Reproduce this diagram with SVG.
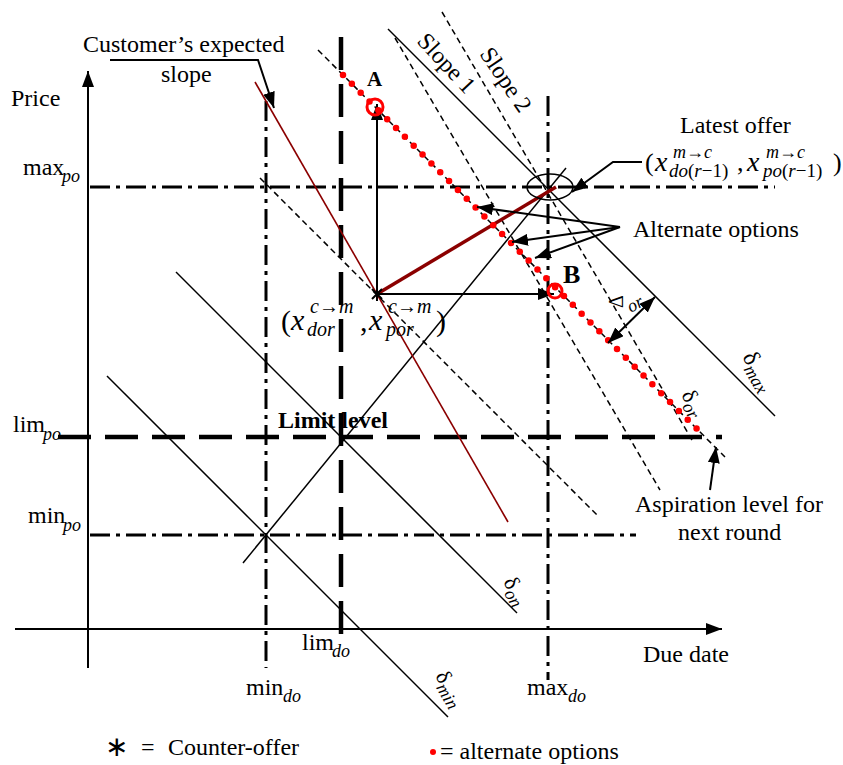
<svg xmlns="http://www.w3.org/2000/svg" width="843" height="765" viewBox="0 0 843 765">
<defs>
<style>
text{font-family:"Liberation Serif","Times New Roman",serif;font-size:24px;fill:#000}
.sub{font-size:18px;font-style:italic}
.it{font-style:italic}
.b{font-weight:bold}
.ln{stroke:#000;stroke-width:1.5;fill:none}
.dash{stroke:#000;stroke-width:1.5;fill:none;stroke-dasharray:6 4}
.ddh{stroke:#000;stroke-width:3;fill:none;stroke-dasharray:20 6 4 6}
.thick{stroke:#000;stroke-width:4.5;fill:none;stroke-dasharray:33 14}
.ax{stroke:#000;stroke-width:2;fill:none}
.arr{stroke:#000;stroke-width:2;fill:none;marker-end:url(#ah)}
</style>
<marker id="ah" viewBox="0 0 16 12" refX="16" refY="6" markerWidth="16" markerHeight="12" markerUnits="userSpaceOnUse" orient="auto-start-reverse"><path d="M0,0 L16,6 L0,12 Z" fill="#000"/></marker>
</defs>
<rect width="843" height="765" fill="#fff"/>

<g id="axes">
<line class="ax" x1="88" y1="668" x2="88" y2="71" marker-end="url(#ah)"/>
<line class="ax" x1="15" y1="629" x2="722" y2="629" marker-end="url(#ah)"/>
<text x="11" y="106">Price</text>
<text x="643" y="662">Due date</text>
</g>

<g id="levels">
<line class="ddh" x1="90" y1="187" x2="775" y2="187"/>
<line class="ddh" x1="90" y1="535" x2="636" y2="535"/>
<line class="ddh" x1="266" y1="101" x2="266" y2="668"/>
<line class="ddh" x1="548" y1="96" x2="548" y2="680"/>
<line class="thick" x1="58" y1="437" x2="722" y2="437"/>
<line class="thick" x1="341" y1="37" x2="341" y2="638"/>
<text x="23" y="175">max<tspan class="sub" x="62" y="182">po</tspan></text>
<text x="13" y="432">lim<tspan class="sub" x="43" y="440">po</tspan></text>
<text x="28" y="523">min<tspan class="sub" x="63" y="531">po</tspan></text>
<text x="302" y="650">lim<tspan class="sub" x="332" y="657">do</tspan></text>
<text x="246" y="695">min<tspan class="sub" x="283" y="702">do</tspan></text>
<text x="527" y="695">max<tspan class="sub" x="568" y="702">do</tspan></text>
<text class="b" x="278" y="428">Limit level</text>
</g>

<g id="connectors">
<line class="ln" x1="107" y1="376" x2="448" y2="717"/>
<line class="ln" x1="176" y1="272" x2="517" y2="613"/>
<line class="dash" x1="260" y1="178" x2="598" y2="516"/>
<line class="dash" x1="318" y1="50" x2="725" y2="457"/>
<line class="ln" x1="388" y1="29" x2="775" y2="416"/>
<line class="dash" x1="395" y1="38" x2="660" y2="490"/>
<line class="dash" x1="442" y1="12" x2="692" y2="440"/>
<line class="ln" x1="243" y1="563" x2="566" y2="168"/>
<line stroke="#8B0000" stroke-width="1.6" x1="255" y1="82" x2="508" y2="522"/>
<line stroke="#8B0000" stroke-width="3.5" x1="377" y1="294" x2="556" y2="187"/>
<line class="arr" x1="377" y1="294" x2="377" y2="104"/>
<line class="arr" x1="377" y1="294" x2="554" y2="294"/>
<line stroke="#f00" stroke-width="6.5" stroke-linecap="round" stroke-dasharray="0 12.5" x1="343" y1="75" x2="697" y2="429"/>
<circle cx="375" cy="107" r="8" fill="none" stroke="#f00" stroke-width="3"/>
<circle cx="555" cy="291" r="7" fill="none" stroke="#f00" stroke-width="3"/>
<ellipse cx="550" cy="187" rx="23" ry="13" class="ln"/>
<path d="M372,289 L382,299 M372,299 L382,289 M377,287 L377,301" stroke="#000" stroke-width="2"/>
<polyline class="arr" points="110,60 258,60 274,108"/>
<polyline class="arr" points="642,162 613,162 572,192"/>
<line class="arr" x1="620" y1="227" x2="477" y2="207"/>
<line class="arr" x1="620" y1="227" x2="512" y2="242"/>
<line class="arr" x1="620" y1="227" x2="535" y2="258"/>
<line class="arr" x1="710" y1="490" x2="716" y2="447"/>
<line stroke="#000" stroke-width="2" marker-start="url(#ah)" marker-end="url(#ah)" x1="608" y1="343" x2="655" y2="297"/>
</g>

<g id="labels">
<text x="83" y="52">Customer’s expected</text>
<text x="161" y="82">slope</text>
<text class="b" x="367" y="86" style="font-size:21px">A</text>
<text class="b" x="563" y="283" style="font-size:26px">B</text>
<text transform="translate(416,42) rotate(47)">Slope 1</text>
<text transform="translate(479,54) rotate(56)">Slope 2</text>
<text x="680" y="133">Latest offer</text>
<text x="633" y="237">Alternate options</text>
<text x="635" y="512">Aspiration level for</text>
<text x="678" y="540">next round</text>
<text transform="translate(742,357) rotate(60)">δ<tspan class="sub" dy="5">max</tspan></text>
<text transform="translate(681,395) rotate(60)" style="font-size:22px">δ<tspan class="sub" dy="5">or</tspan></text>
<text transform="translate(503,582) rotate(60)" style="font-size:22px">δ<tspan class="sub" dy="5">on</tspan></text>
<text transform="translate(435,676) rotate(60)" style="font-size:22px">δ<tspan class="sub" dy="5">min</tspan></text>
<text transform="translate(623,308) rotate(-90)" style="font-size:20px">Δ</text>
<text class="sub" transform="translate(631,313) rotate(-30)">or</text>
</g>

<g id="latest-offer-formula">
<text x="645" y="171" style="font-size:26px">(</text>
<text class="it" x="655" y="171" style="font-size:28px">x</text>
<text class="sub" x="673" y="158" style="font-size:18px">m→c</text>
<text x="669" y="177" style="font-size:19px"><tspan class="it">do</tspan>(<tspan class="it">r</tspan>−1)</text>
<text x="737" y="171" style="font-size:26px">,</text>
<text class="it" x="747" y="171" style="font-size:28px">x</text>
<text class="sub" x="766" y="158" style="font-size:18px">m→c</text>
<text x="763" y="177" style="font-size:19px"><tspan class="it">po</tspan>(<tspan class="it">r</tspan>−1)</text>
<text x="833" y="171" style="font-size:26px">)</text>
</g>

<g id="counter-offer-formula">
<text x="281" y="331" style="font-size:30px">(</text>
<text class="it" x="291" y="330" style="font-size:30px">x</text>
<text class="sub" x="310" y="313" style="font-size:20px">c→m</text>
<text class="sub" x="307" y="336" style="font-size:20px">dor</text>
<text x="360" y="331" style="font-size:30px">,</text>
<text class="it" x="369" y="330" style="font-size:30px">x</text>
<text class="sub" x="388" y="313" style="font-size:20px">c→m</text>
<text class="sub" x="386" y="336" style="font-size:20px">por</text>
<text x="436" y="331" style="font-size:30px">)</text>
</g>

<g id="legend">
<text x="105" y="756" style="font-family:'DejaVu Sans',sans-serif;font-size:28px">∗</text>
<text x="141" y="755">=</text>
<text x="168" y="755">Counter-offer</text>
<circle cx="433" cy="752" r="3" fill="#f00"/>
<text x="440" y="759">= alternate options</text>
</g>
</svg>
